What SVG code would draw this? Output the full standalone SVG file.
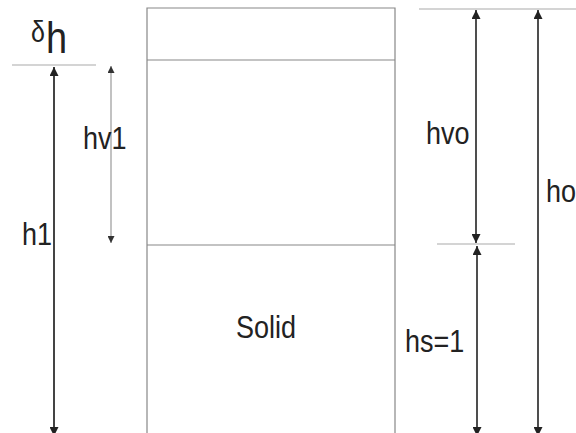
<svg xmlns="http://www.w3.org/2000/svg" width="576" height="433" viewBox="0 0 576 433">
<defs>
<marker id="ah" viewBox="0 0 10 10" refX="10" refY="5" markerWidth="10" markerHeight="9" markerUnits="userSpaceOnUse" orient="auto-start-reverse">
<path d="M0,0 L10,5 L0,10 z" fill="#222"/>
</marker>
<marker id="ahs" viewBox="0 0 10 10" refX="10" refY="5" markerWidth="8" markerHeight="7" markerUnits="userSpaceOnUse" orient="auto-start-reverse">
<path d="M0,0 L10,5 L0,10 z" fill="#333"/>
</marker>
<style>
text{font-family:"Liberation Sans",Arial,sans-serif;fill:#222;font-size:27px}
.box{fill:none;stroke:#888;stroke-width:1.2}
.ref{stroke:#aaa;stroke-width:1.2}
.dim{stroke:#222;stroke-width:1.6;fill:none}
.dimthin{stroke:#999;stroke-width:1.2;fill:none}
</style>
</defs>
<g id="container">
<polyline class="box" points="147,433 147,8 395,8 395,433"/>
<line class="box" x1="147" y1="60" x2="395" y2="60"/>
<line class="box" x1="147" y1="245" x2="395" y2="245"/>
<text transform="translate(236,338) scale(1,1.15)">Solid</text>
</g>
<g id="refs">
<line class="ref" x1="12" y1="65" x2="96" y2="65"/>
<line class="ref" x1="419" y1="9" x2="576" y2="9"/>
<line class="ref" x1="437" y1="244" x2="515" y2="244"/>
</g>
<g id="connectors">
<line class="dim" x1="54" y1="67" x2="54" y2="436" style="stroke:#444;stroke-width:2" marker-start="url(#ah)" marker-end="url(#ah)"/>
<line class="dimthin" x1="111" y1="66" x2="111" y2="243" marker-start="url(#ahs)" marker-end="url(#ahs)"/>
<line class="dim" x1="476" y1="10" x2="476" y2="243" marker-start="url(#ah)" marker-end="url(#ah)"/>
<line class="dim" x1="477" y1="246" x2="477" y2="436" marker-start="url(#ah)" marker-end="url(#ah)"/>
<line class="dim" x1="538" y1="10" x2="538" y2="436" marker-start="url(#ah)" marker-end="url(#ah)"/>
</g>
<g id="labels">
<text transform="translate(31,42) scale(1,1.15)" style="font-size:25px">δ</text>
<text transform="translate(46,53) scale(1,1.15)" style="font-size:38px">h</text>
<text transform="translate(83,149) scale(1,1.15)">hv1</text>
<text transform="translate(22,245) scale(1,1.15)">h1</text>
<text transform="translate(426,144) scale(1,1.15)">hvo</text>
<text transform="translate(546,202) scale(1,1.15)">ho</text>
<text transform="translate(405,352) scale(1,1.15)">hs=1</text>
</g>
</svg>
